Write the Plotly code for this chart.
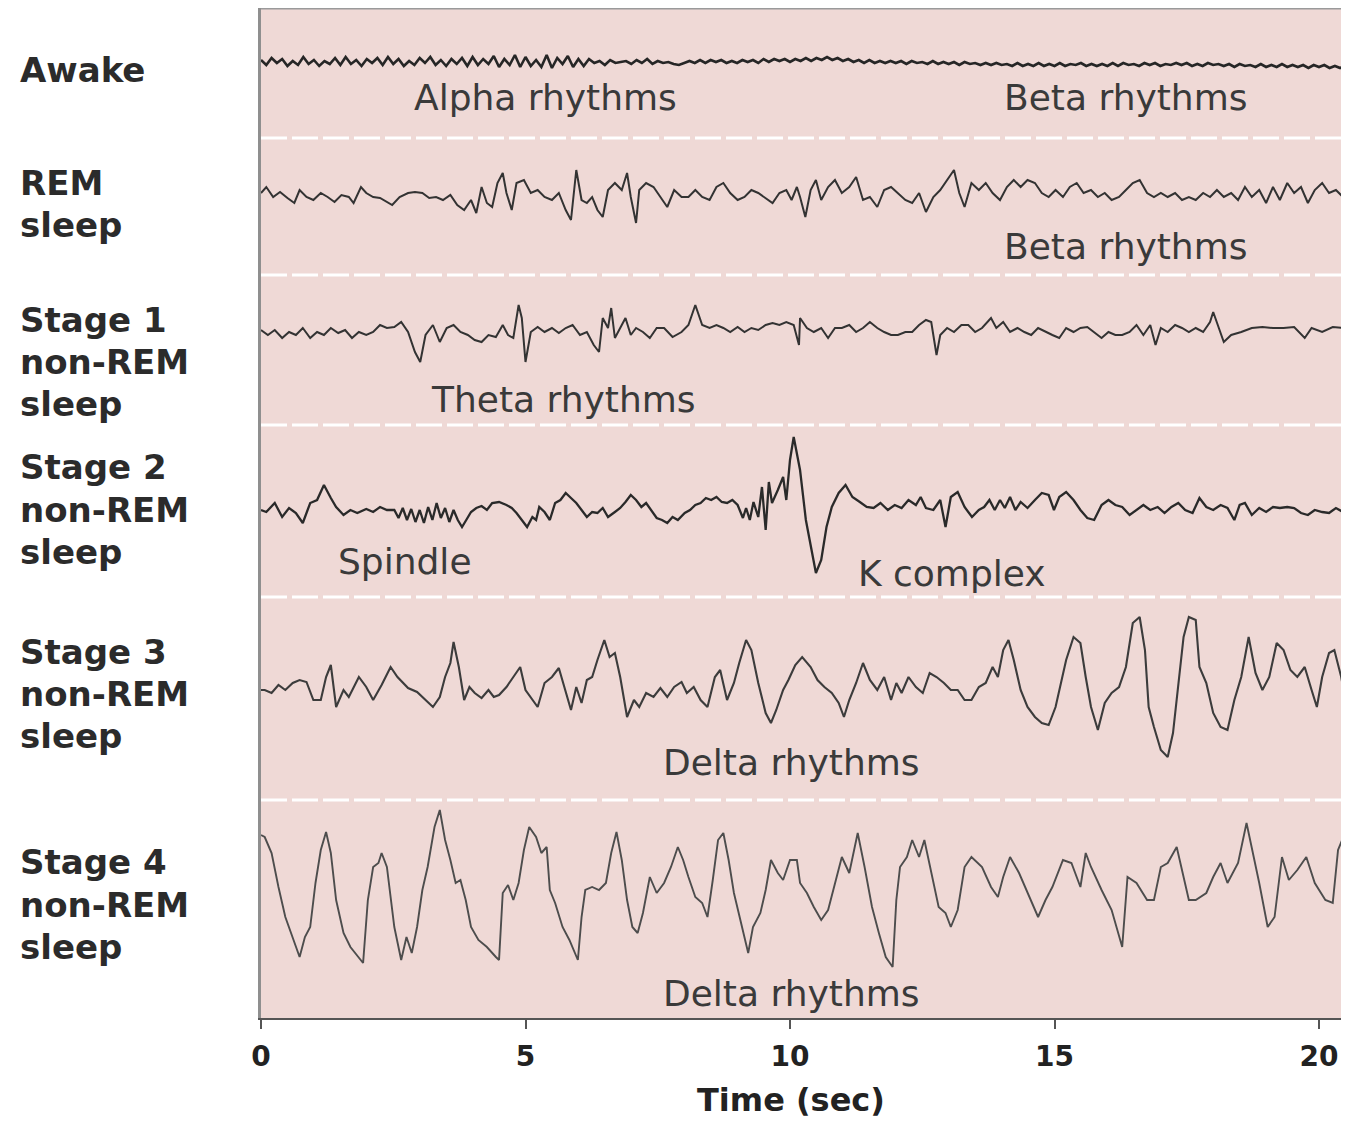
import plotly.graph_objects as go

# ---------------- data (time in s, amplitude in arbitrary µV-like units, + = up) -------------
row_labels = [["Awake"], ["REM", "sleep"], ["Stage 1", "non-REM", "sleep"],
              ["Stage 2", "non-REM", "sleep"], ["Stage 3", "non-REM", "sleep"],
              ["Stage 4", "non-REM", "sleep"]]
tick_values = [0, 5, 10, 15, 20]
x_title = "Time (sec)"

# Awake: sampled every 0.1 s
awake_amp = (
    [2, -3, 4, -1, 3, -4, 1, -3, 5, -2, 2, -4, 1, -2, 4, -3, 5, -2, 2, -4, 3]
    + [-1, 4, -3, 5, -2, 3, -4, 1, -3, 4, -1, 5, -3, 2, -4, 3, -2, 4, -4, 5]
    + [-3, 3, -2, 6, -5, 3, -3, 7, -5, 5, -4, 2, -5, 7, -6, 4, -2, 6, -5, 3]
    + [-4, 3, -1, 1, -3, 2, -1, 0, 1, -2, 2, -1, 3, -2, 1, -1, 0, -2, -3, -1]
    + [1, -1, 2, -1, 2, 0, 2, -1, 1, -1, 2, 0, 2, -1, 3, 0, 3, 1, 3, 0]
    + [3, 1, 4, 1, 4, 2, 5, 2, 4, 1, 3, 0, 2, -1, 2, -1, 1, -1, 1, -1]
    + [1, -2, 1, -1, 0, -2, 1, -2, 0, -2, 0, -3, 0, -2, -1, -3, -1, -3, -1, -3]
    + [-2, -4, -1, -4, -2, -4, -1, -4, -2, -4, -1, -4, -2, -3, -1, -4, -2, -4, -2, -4]
    + [-1, -4, -1, -3, -2, -4, -1, -3, -1, -4, -2, -3, -1, -3, -1, -4, -2, -4, -1, -3]
    + [-2, -4, -2, -5, -2, -4, -3, -5, -2, -5, -3, -5, -2, -5, -3, -5, -3, -6, -3, -5]
    + [-3, -6, -4, -6, -4]
)
awake_t = [round(i * 0.1, 2) for i in range(len(awake_amp))]

rem_pts = [(0.00, 2), (0.10, 8), (0.23, -2), (0.36, 3), (0.50, -3), (0.63, -8), (0.73, 5), (0.86, -2),
           (0.99, -5), (1.13, 2), (1.26, -2), (1.39, -7), (1.52, 0), (1.66, -2), (1.75, -8), (1.89, 8),
           (1.99, 2), (2.12, -2), (2.25, -3), (2.38, -7), (2.48, -10), (2.62, -2), (2.78, 2), (2.91, 3),
           (3.05, 2), (3.18, -3), (3.31, -2), (3.44, -5), (3.58, 0), (3.71, -10), (3.84, -15), (3.97, -5),
           (4.07, -18), (4.17, 8), (4.27, -8), (4.37, -12), (4.47, 12), (4.57, 22), (4.64, 2), (4.74, -15),
           (4.83, 12), (4.97, 15), (5.10, 2), (5.23, 5), (5.36, -2), (5.50, -5), (5.63, 2), (5.76, -15),
           (5.86, -25), (5.96, 25), (6.06, -5), (6.16, -8), (6.26, -2), (6.36, -15), (6.46, -22), (6.56, 5),
           (6.69, 12), (6.82, 5), (6.92, 22), (6.99, -2), (7.09, -28), (7.15, 5), (7.28, 12), (7.42, 8),
           (7.55, -2), (7.68, -12), (7.81, 5), (7.95, -2), (8.08, -2), (8.21, 5), (8.34, -2), (8.48, -5),
           (8.61, 8), (8.74, 12), (8.87, 2), (9.01, -5), (9.14, -2), (9.27, 5), (9.40, 2), (9.54, -3),
           (9.67, -8), (9.80, 2), (9.93, 5), (10.03, -5), (10.13, 8), (10.19, -2), (10.29, -22), (10.39, 5),
           (10.49, 15), (10.59, -5), (10.72, 8), (10.85, 15), (10.98, 2), (11.12, 8), (11.25, 18), (11.38, -5),
           (11.51, -2), (11.65, -12), (11.78, 5), (11.91, 8), (12.04, 2), (12.18, -5), (12.31, -8), (12.44, 2),
           (12.57, -17), (12.71, -2), (12.84, 5), (12.97, 15), (13.10, 25), (13.20, 2), (13.30, -12), (13.43, 12),
           (13.57, 5), (13.70, 12), (13.83, 2), (13.97, -5), (14.10, 8), (14.23, 15), (14.36, 8), (14.49, 15),
           (14.63, 12), (14.76, 2), (14.89, -2), (15.02, 5), (15.16, -2), (15.29, 8), (15.42, 12), (15.55, 2),
           (15.69, 5), (15.82, -2), (15.95, 2), (16.08, -5), (16.22, -2), (16.35, 5), (16.48, 12), (16.61, 15),
           (16.75, 2), (16.88, -2), (17.01, 2), (17.14, -2), (17.28, 2), (17.41, -5), (17.54, -2), (17.67, -5),
           (17.81, 2), (17.94, -2), (18.07, 5), (18.20, -2), (18.34, 2), (18.47, -5), (18.60, 8), (18.73, -2),
           (18.87, 5), (19.00, -8), (19.13, 8), (19.26, -5), (19.40, 12), (19.53, 2), (19.66, 8), (19.79, -8),
           (19.92, 5), (20.06, 12), (20.19, 2), (20.32, 5), (20.45, -2), (20.57, -8)]

stage1_pts = [(0.00, 0), (0.13, -5), (0.26, 0), (0.40, -8), (0.53, -2), (0.66, -5), (0.79, 2), (0.93, -8),
              (1.06, -2), (1.19, -5), (1.32, 2), (1.46, -3), (1.59, 0), (1.72, -8), (1.85, -2), (1.99, -5),
              (2.12, -2), (2.25, 5), (2.38, 2), (2.52, 3), (2.65, 8), (2.78, -2), (2.91, -22), (3.01, -32),
              (3.11, -5), (3.25, 5), (3.38, -12), (3.51, 2), (3.64, 5), (3.77, -2), (3.91, -5), (4.04, -10),
              (4.17, -12), (4.30, -5), (4.44, -7), (4.57, 5), (4.67, -5), (4.77, -8), (4.87, 25), (4.93, 12),
              (5.00, -32), (5.10, -2), (5.23, 3), (5.36, -2), (5.50, 2), (5.63, -3), (5.76, 2), (5.89, 5),
              (6.03, -5), (6.16, -2), (6.29, -15), (6.39, -22), (6.46, 12), (6.56, 2), (6.62, 22), (6.69, -8),
              (6.79, 2), (6.89, 12), (6.99, -5), (7.09, 2), (7.22, -2), (7.35, -8), (7.48, 2), (7.62, 2),
              (7.78, -7), (7.95, -2), (8.08, 5), (8.21, 25), (8.34, 5), (8.48, 2), (8.61, 5), (8.74, 2),
              (8.87, -2), (9.01, 3), (9.14, -2), (9.27, 2), (9.40, 0), (9.54, 5), (9.67, 7), (9.80, 5),
              (9.93, 8), (10.07, 5), (10.17, -15), (10.19, 12), (10.32, 2), (10.45, -2), (10.59, 2), (10.72, -8),
              (10.85, 2), (10.98, 2), (11.12, 5), (11.25, -2), (11.38, 2), (11.51, 8), (11.65, 2), (11.78, -2),
              (11.91, -5), (12.04, -5), (12.18, -2), (12.31, -2), (12.44, 5), (12.57, 10), (12.67, 8), (12.77, -25),
              (12.84, -5), (12.97, 2), (13.10, -2), (13.24, 5), (13.37, 5), (13.50, -2), (13.63, 2), (13.80, 12),
              (13.90, 2), (14.03, 8), (14.16, -2), (14.30, 2), (14.43, -2), (14.56, -5), (14.69, 2), (14.83, -2),
              (14.96, -5), (15.09, -8), (15.22, 2), (15.36, -2), (15.49, 2), (15.62, 3), (15.75, -2), (15.89, -8),
              (16.02, -2), (16.15, -5), (16.28, -5), (16.42, -2), (16.55, 5), (16.68, -5), (16.81, 5), (16.91, -15),
              (17.01, 2), (17.14, -2), (17.28, 5), (17.41, 2), (17.54, -2), (17.67, 2), (17.81, -2), (17.94, 8),
              (18.00, 18), (18.07, 8), (18.20, -12), (18.34, -5), (18.53, -2), (18.73, 2), (18.93, 3), (19.13, 2),
              (19.33, 2), (19.53, 3), (19.73, -8), (19.86, 2), (20.06, -2), (20.26, 3), (20.46, 2), (20.57, 5)]

stage2_pts = [(0.00, 0), (0.10, -2), (0.26, 7), (0.40, -7), (0.53, 2), (0.66, -3), (0.79, -13), (0.93, 7),
              (1.06, 10), (1.19, 25), (1.32, 12), (1.42, 3), (1.56, -5), (1.69, 0), (1.82, -3), (1.99, 1),
              (2.12, -2), (2.25, 3), (2.38, 0), (2.52, 0), (2.60, -8), (2.68, 2), (2.76, -10), (2.84, 1),
              (2.92, -12), (3.00, 0), (3.08, -13), (3.16, 3), (3.24, -10), (3.32, 7), (3.40, -8), (3.48, 2),
              (3.56, -12), (3.64, 0), (3.72, -10), (3.80, -17), (3.88, -10), (3.97, -2), (4.07, 2), (4.17, 4),
              (4.27, 0), (4.37, 7), (4.50, 8), (4.64, 5), (4.74, 2), (4.83, -3), (4.93, -10), (5.03, -17),
              (5.13, -7), (5.20, -10), (5.26, 3), (5.36, -2), (5.46, -10), (5.56, 7), (5.66, 10), (5.76, 17),
              (5.86, 12), (5.96, 7), (6.06, 0), (6.16, -7), (6.26, -2), (6.36, -3), (6.46, 2), (6.56, -7),
              (6.69, -2), (6.79, 2), (6.89, 8), (6.99, 15), (7.09, 10), (7.19, 3), (7.28, 7), (7.38, 0),
              (7.48, -8), (7.58, -10), (7.68, -13), (7.78, -7), (7.88, -10), (8.01, -3), (8.11, 0), (8.21, 5),
              (8.31, 7), (8.41, 12), (8.51, 10), (8.61, 13), (8.71, 8), (8.81, 7), (8.91, 10), (9.01, 5),
              (9.11, -8), (9.17, 2), (9.24, -10), (9.31, 8), (9.40, -7), (9.47, 23), (9.54, -20), (9.60, 28),
              (9.66, 7), (9.77, 20), (9.87, 33), (9.93, 10), (10.00, 50), (10.07, 73), (10.19, 40), (10.30, -10),
              (10.49, -63), (10.59, -50), (10.69, -17), (10.79, 3), (10.92, 17), (11.05, 25), (11.18, 13), (11.32, 8),
              (11.45, 3), (11.58, 2), (11.71, 7), (11.85, 0), (11.98, 5), (12.11, 2), (12.24, 10), (12.38, 5),
              (12.47, 13), (12.57, 2), (12.71, 0), (12.84, 10), (12.94, -17), (13.04, 13), (13.17, 18), (13.30, 3),
              (13.44, -7), (13.57, 0), (13.67, 3), (13.77, 10), (13.87, 0), (13.97, 10), (14.06, 2), (14.16, 13),
              (14.26, 0), (14.36, 8), (14.49, 2), (14.63, 10), (14.76, 17), (14.89, 15), (14.99, 0), (15.09, 13),
              (15.22, 18), (15.36, 10), (15.49, 0), (15.62, -8), (15.75, -10), (15.89, 5), (16.02, 10), (16.15, 5),
              (16.28, 3), (16.42, -5), (16.55, 0), (16.68, 5), (16.81, 0), (16.95, 3), (17.08, -3), (17.21, 3),
              (17.34, 7), (17.47, 0), (17.61, -3), (17.74, 12), (17.87, 3), (18.00, 0), (18.14, 5), (18.27, 2),
              (18.40, -10), (18.50, 5), (18.60, 7), (18.73, -5), (18.87, 2), (19.00, -2), (19.13, 3), (19.26, 2),
              (19.40, 3), (19.53, 2), (19.66, -3), (19.79, -5), (19.92, 0), (20.06, -2), (20.19, -3), (20.32, 2),
              (20.45, -2), (20.57, -1)]

stage3_pts = [(0.00, 0), (0.07, 0), (0.20, -3), (0.33, 5), (0.46, 0), (0.60, 7), (0.73, 10), (0.86, 8),
              (0.99, -10), (1.13, -10), (1.23, 13), (1.32, 25), (1.42, -17), (1.56, 0), (1.66, -7), (1.75, 2),
              (1.85, 13), (1.99, 3), (2.12, -10), (2.28, 5), (2.45, 23), (2.58, 13), (2.78, 2), (2.95, -2),
              (3.11, -10), (3.25, -17), (3.38, -7), (3.48, 13), (3.58, 27), (3.64, 48), (3.74, 23), (3.84, -10),
              (3.94, 3), (4.04, -3), (4.17, -8), (4.30, 0), (4.40, -7), (4.50, -5), (4.64, 3), (4.77, 13),
              (4.90, 23), (5.00, 0), (5.10, -7), (5.23, -17), (5.36, 7), (5.50, 13), (5.63, 22), (5.76, -3),
              (5.86, -20), (5.96, 3), (6.06, -13), (6.16, 10), (6.26, 13), (6.36, 30), (6.49, 50), (6.59, 33),
              (6.69, 37), (6.79, 13), (6.92, -27), (7.05, -10), (7.15, -17), (7.28, -3), (7.42, -7), (7.55, 2),
              (7.68, -7), (7.81, 3), (7.95, 8), (8.05, -3), (8.18, 3), (8.31, -10), (8.44, -17), (8.58, 13),
              (8.68, 20), (8.81, -10), (8.94, 7), (9.04, 27), (9.17, 50), (9.27, 40), (9.40, 7), (9.54, -23),
              (9.64, -33), (9.74, -20), (9.87, 0), (9.97, 10), (10.10, 25), (10.23, 33), (10.39, 23), (10.52, 10),
              (10.65, 3), (10.79, -3), (10.92, -13), (11.02, -27), (11.12, -10), (11.25, 7), (11.38, 27), (11.51, 10),
              (11.65, 0), (11.78, 13), (11.91, -10), (12.01, 7), (12.11, -3), (12.24, 13), (12.38, 3), (12.51, -3),
              (12.64, 17), (12.77, 13), (12.91, 7), (13.04, 0), (13.17, 0), (13.30, -10), (13.43, -10), (13.57, 3),
              (13.70, 7), (13.83, 23), (13.93, 13), (14.03, 40), (14.13, 50), (14.23, 30), (14.36, 0), (14.49, -17),
              (14.63, -27), (14.76, -33), (14.89, -35), (15.02, -17), (15.12, 7), (15.22, 30), (15.36, 53), (15.49, 47),
              (15.59, 13), (15.69, -17), (15.82, -40), (15.95, -13), (16.08, -3), (16.22, 3), (16.35, 23), (16.48, 67),
              (16.61, 73), (16.71, 40), (16.78, -17), (16.88, -37), (17.01, -60), (17.14, -67), (17.24, -43), (17.34, 7),
              (17.44, 53), (17.54, 73), (17.67, 70), (17.74, 23), (17.87, 7), (18.00, -23), (18.14, -37), (18.27, -40),
              (18.40, -10), (18.53, 13), (18.67, 53), (18.80, 17), (18.93, 0), (19.06, 13), (19.20, 47), (19.33, 40),
              (19.46, 20), (19.59, 13), (19.73, 23), (19.86, 0), (19.96, -17), (20.06, 13), (20.19, 37), (20.29, 40),
              (20.42, 13), (20.52, -17), (20.57, -10)]

stage4_pts = [(0.00, 55), (0.07, 53), (0.20, 37), (0.33, 3), (0.46, -27), (0.60, -47), (0.73, -67), (0.83, -47),
              (0.93, -37), (1.03, 7), (1.13, 40), (1.23, 58), (1.32, 37), (1.42, -10), (1.56, -43), (1.69, -57),
              (1.85, -67), (1.93, -73), (2.02, -10), (2.12, 23), (2.22, 27), (2.28, 37), (2.38, 23), (2.52, -37),
              (2.65, -70), (2.75, -47), (2.85, -63), (2.95, -37), (3.05, 0), (3.15, 23), (3.28, 63), (3.38, 80),
              (3.48, 50), (3.58, 30), (3.68, 7), (3.77, 10), (3.87, -10), (3.97, -37), (4.11, -50), (4.27, -57),
              (4.44, -67), (4.50, -70), (4.57, -3), (4.67, 5), (4.77, -10), (4.87, 7), (4.97, 40), (5.07, 63),
              (5.20, 53), (5.30, 37), (5.40, 43), (5.46, 0), (5.56, -13), (5.70, -37), (5.83, -50), (5.99, -70),
              (6.06, -27), (6.13, 0), (6.26, 3), (6.39, 0), (6.52, 7), (6.62, 37), (6.72, 58), (6.82, 30),
              (6.92, -10), (7.02, -37), (7.12, -43), (7.22, -23), (7.35, 13), (7.48, -3), (7.62, 7), (7.75, 23),
              (7.88, 43), (7.98, 30), (8.08, 13), (8.21, -7), (8.34, -13), (8.44, -27), (8.54, 10), (8.64, 50),
              (8.74, 57), (8.84, 30), (8.94, -3), (9.07, -33), (9.21, -63), (9.30, -37), (9.44, -23), (9.54, 0),
              (9.64, 30), (9.77, 17), (9.87, 10), (10.00, 30), (10.13, 30), (10.19, 7), (10.32, -3), (10.45, -17),
              (10.59, -30), (10.72, -20), (10.85, 7), (10.98, 33), (11.12, 17), (11.28, 57), (11.41, 23), (11.55, -17),
              (11.68, -43), (11.81, -67), (11.94, -77), (12.01, -10), (12.08, 23), (12.21, 33), (12.31, 50), (12.44, 33),
              (12.54, 50), (12.67, 17), (12.81, -17), (12.94, -23), (13.04, -37), (13.17, -20), (13.30, 23), (13.43, 33),
              (13.63, 23), (13.80, 3), (13.93, -7), (14.03, 13), (14.16, 33), (14.33, 17), (14.49, -3), (14.69, -27),
              (14.83, -10), (14.96, 3), (15.16, 30), (15.32, 27), (15.49, 3), (15.59, 37), (15.69, 23), (15.89, 0),
              (16.08, -20), (16.28, -57), (16.38, 13), (16.55, 7), (16.75, -10), (16.88, -10), (17.01, 23), (17.14, 27),
              (17.31, 43), (17.41, 20), (17.54, -10), (17.67, -10), (17.87, -3), (18.00, 13), (18.14, 27), (18.27, 7),
              (18.47, 27), (18.63, 67), (18.73, 43), (18.87, 7), (19.03, -37), (19.16, -27), (19.30, 33), (19.43, 10),
              (19.59, 20), (19.76, 33), (19.92, 7), (20.12, -10), (20.26, -13), (20.36, 40), (20.46, 53), (20.56, 70)]

rhythm_labels = ["Alpha rhythms", "Beta rhythms", "Beta rhythms", "Theta rhythms", "Spindle",
                 "K complex", "Delta rhythms", "Delta rhythms"]
rhythm_times = [5.38, 16.35, 16.35, 5.71, 2.72, 13.06, 10.02, 10.02]

# ---------------- layout / styling ----------------
# The page body adds an 8 px offset; margins are set so the plot lands on the
# reference's pixel positions in the final 1349x1122 screenshot.
PAGE_OFFSET = 8
W, H = 1349, 1122 - PAGE_OFFSET
PLOT_LEFT, PLOT_RIGHT, PLOT_TOP, PLOT_BOTTOM = 261, 1349, 8, 1018   # target screenshot pixels
ML = PLOT_LEFT - PAGE_OFFSET
MR = (W + PAGE_OFFSET) - PLOT_RIGHT
MT = PLOT_TOP - PAGE_OFFSET
MB = (H + PAGE_OFFSET) - PLOT_BOTTOM
PX_PER_SEC = 52.9
x_max = (PLOT_RIGHT - PLOT_LEFT) / PX_PER_SEC

row_baselines = [62, 195, 330, 510, 690, 890]
row_label_lines_y = [[70], [183, 225], [320, 362, 404], [467, 510, 552], [652, 694, 736], [862, 905, 947]]
rhythm_label_y = [97, 97, 246, 399, 561, 573, 762, 993]
separator_y = [138, 275, 425, 597, 800]
trace_styles = [("#262626", 2.6), ("#333333", 2.0), ("#333333", 2.0), ("#2a2a2a", 2.3),
                ("#3c3c3c", 2.1), ("#4d4d4d", 1.9)]


def split(pts):
    return [p[0] for p in pts], [p[1] for p in pts]


series = [(awake_t, awake_amp), split(rem_pts), split(stage1_pts), split(stage2_pts),
          split(stage3_pts), split(stage4_pts)]

fig = go.Figure()
for (t, amp), base, (col, lw) in zip(series, row_baselines, trace_styles):
    fig.add_trace(go.Scatter(x=t, y=[base - a for a in amp], mode="lines",
                             line=dict(color=col, width=lw), hoverinfo="skip", showlegend=False))

shapes = []
for y in separator_y:
    shapes.append(dict(type="line", xref="x", yref="y", x0=0, x1=x_max, y0=y, y1=y,
                       line=dict(color="white", width=3, dash="26px,5px"), layer="below"))
shapes.append(dict(type="line", xref="paper", yref="paper", x0=0, x1=1, y0=1, y1=1,
                   line=dict(color="#9a9a9a", width=3)))

plot_w = PLOT_RIGHT - PLOT_LEFT
annotations = []
for lines, ys in zip(row_labels, row_label_lines_y):
    for txt, y in zip(lines, ys):
        annotations.append(dict(text=txt, xref="paper", x=(18 - PLOT_LEFT) / plot_w, xanchor="left",
                                yref="y", y=y, yanchor="middle", showarrow=False,
                                font=dict(family="DejaVu Sans", size=34, color="#2b2b2b", weight="bold")))
for txt, tx, y in zip(rhythm_labels, rhythm_times, rhythm_label_y):
    annotations.append(dict(text=txt, xref="x", x=tx, xanchor="center", yref="y", y=y,
                            yanchor="middle", showarrow=False,
                            font=dict(family="DejaVu Sans", size=36, color="#3a3a3a")))
annotations.append(dict(text=x_title, xref="paper", x=(791 - PLOT_LEFT) / plot_w, xanchor="center",
                        yref="paper", y=(PLOT_BOTTOM - 1100) / (PLOT_BOTTOM - PLOT_TOP), yanchor="middle",
                        showarrow=False,
                        font=dict(family="DejaVu Sans", size=32, color="#222222", weight="bold")))

fig.update_layout(
    width=W, height=H,
    margin=dict(l=ML, r=MR, t=MT, b=MB, pad=0),
    paper_bgcolor="white", plot_bgcolor="#EFD9D6",
    xaxis=dict(range=[0, x_max], showgrid=False, zeroline=False, showline=True,
               linecolor="#555555", linewidth=2, ticks="outside", ticklen=9, tickwidth=2,
               tickcolor="#555555", tickvals=tick_values, ticklabelstandoff=3,
               tickfont=dict(family="DejaVu Sans", size=28, color="#222222", weight="bold")),
    yaxis=dict(range=[PLOT_BOTTOM, PLOT_TOP], showgrid=False, zeroline=False, showline=True,
               linecolor="#8f8f8f", linewidth=3, showticklabels=False, ticks=""),
    shapes=shapes, annotations=annotations,
)

fig.write_html("out.html")
